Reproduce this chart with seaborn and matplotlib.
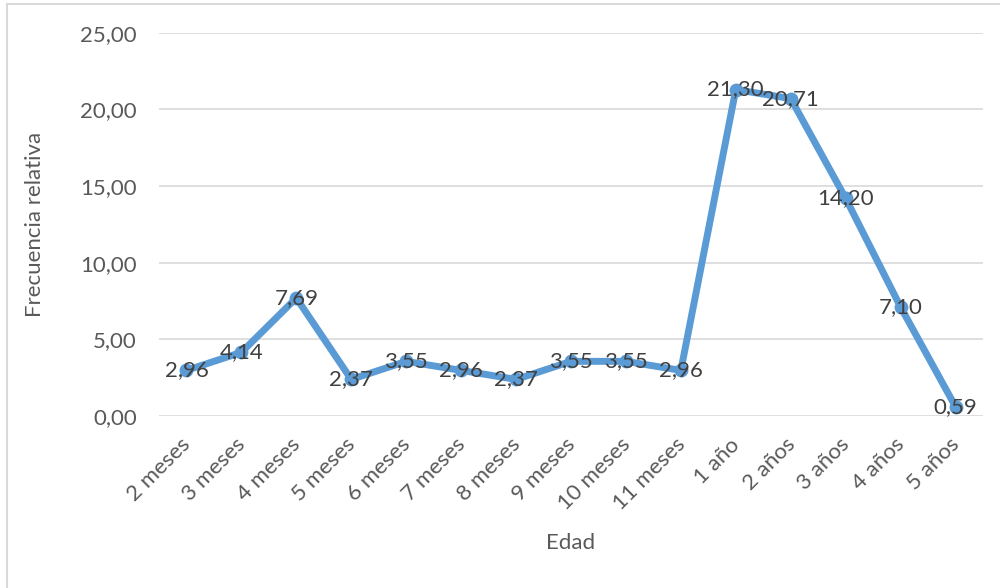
import matplotlib
matplotlib.use("Agg")
import matplotlib.pyplot as plt
import matplotlib.transforms as mtransforms
from matplotlib.lines import Line2D
import seaborn as sns
import pandas as pd

edades = ["2 meses", "3 meses", "4 meses", "5 meses", "6 meses", "7 meses",
          "8 meses", "9 meses", "10 meses", "11 meses", "1 año", "2 años",
          "3 años", "4 años", "5 años"]
frecuencia = [2.96, 4.14, 7.69, 2.37, 3.55, 2.96, 2.37, 3.55, 3.55, 2.96,
              21.30, 20.71, 14.20, 7.10, 0.59]
yticks = [0, 5, 10, 15, 20, 25]

sns.set_theme(style="white")
plt.rcParams["font.family"] = ["Lato", "DejaVu Sans"]

azul = "#5B9BD5"
gris_texto = "#595959"
gris_rejilla = "#D9D9D9"

df = pd.DataFrame({"Edad": edades, "Frecuencia relativa": frecuencia})

fig = plt.figure(figsize=(10, 5.88), dpi=100)
ax = fig.add_axes([0.159, 0.293, 0.824, 0.651])

sns.lineplot(data=df, x="Edad", y="Frecuencia relativa", ax=ax, color=azul,
             linewidth=5, marker="o", markersize=10, markeredgewidth=0,
             sort=False, zorder=3)

for i, v in enumerate(frecuencia):
    ax.text(i, v, f"{v:.2f}".replace(".", ","), ha="center", va="center",
            fontsize=16, color="#404040", zorder=4)

ax.set_xlim(-0.5, len(edades) - 0.5)
ax.set_ylim(0, 25)
ax.set_yticks(yticks)
ax.set_yticklabels([f"{t:.2f}".replace(".", ",") for t in yticks])
ax.yaxis.grid(True, color=gris_rejilla, linewidth=1.2, zorder=0)
ax.xaxis.grid(False)
for s in ax.spines.values():
    s.set_visible(False)
ax.tick_params(axis="both", length=0, colors=gris_texto, labelsize=16)
ax.tick_params(axis="y", pad=16)
ax.tick_params(axis="x", pad=5)

# rotated category labels, nudged down-left
shift = mtransforms.ScaledTranslation(-6 / 100, -12 / 100, fig.dpi_scale_trans)
for lbl in ax.get_xticklabels():
    lbl.set_rotation(45)
    lbl.set_ha("right")
    lbl.set_rotation_mode("anchor")
    lbl.set_transform(lbl.get_transform() + shift)

ax.set_xlabel("Edad", fontsize=16, color=gris_texto, va="center")
ax.set_ylabel("Frecuencia relativa", fontsize=16, color=gris_texto, va="center")
ax.yaxis.set_label_coords(-0.150, 0.5)
ax.xaxis.set_label_coords(0.5, -0.332)

# chart frame
fig.add_artist(Line2D([0.007, 1.0], [1 - 4 / 588, 1 - 4 / 588],
                      transform=fig.transFigure, color="#D9D9D9", linewidth=1.5))
fig.add_artist(Line2D([0.007, 0.007], [0, 1 - 4 / 588],
                      transform=fig.transFigure, color="#D9D9D9", linewidth=1.5))

fig.savefig("out.png", dpi=100, facecolor="white")
